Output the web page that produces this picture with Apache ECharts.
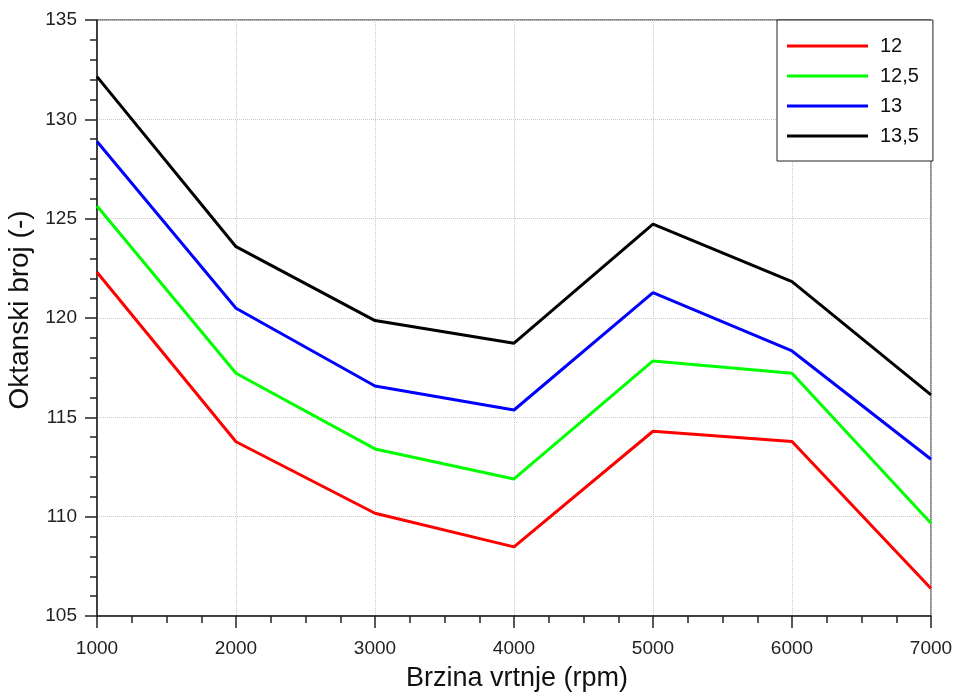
<!DOCTYPE html>
<html>
<head>
<meta charset="utf-8">
<script src="https://cdn.jsdelivr.net/npm/echarts@6/dist/echarts.min.js"></script>
<style>html,body{margin:0;padding:0;background:#fff}#c{width:955px;height:693px}</style>
</head>
<body>
<div id="c"></div>
<script>
const speeds = [1000, 2000, 3000, 4000, 5000, 6000, 7000];
const seriesNames = ['12', '12,5', '13', '13,5'];
const s12  = [122.3, 113.77, 110.17, 108.48, 114.3, 113.78, 106.38];
const s125 = [125.64, 117.22, 113.41, 111.9, 117.84, 117.22, 109.67];
const s13  = [128.88, 120.49, 116.58, 115.37, 121.28, 118.34, 112.89];
const s135 = [132.15, 123.59, 119.87, 118.73, 124.73, 121.83, 116.13];
const colors = ['#ff0000', '#00ff00', '#0000ff', '#000000'];
const allSeries = [s12, s125, s13, s135];

const font = 'Liberation Sans, Arial, sans-serif';
const chart = echarts.init(document.getElementById('c'), null, {renderer: 'canvas'});
chart.setOption({
  animation: false,
  backgroundColor: '#fff',
  grid: {left: 97, right: 24, top: 20, bottom: 77, show: true, borderColor: '#222', borderWidth: 1, outerBoundsMode: 'none', containLabel: false},
  legend: {
    orient: 'vertical', left: 777, top: 20,
    padding: [16, 14, 15, 10],
    borderColor: '#222', borderWidth: 1, backgroundColor: '#fff',
    itemWidth: 81, itemHeight: 3, itemGap: 10, icon: 'rect',
    textStyle: {fontFamily: font, fontSize: 20, lineHeight: 20, color: '#111', padding: [0, 0, 0, 7]},
    data: seriesNames
  },
  xAxis: {
    type: 'value', min: 1000, max: 7000, interval: 1000,
    name: 'Brzina vrtnje (rpm)', nameLocation: 'middle', nameGap: 49,
    nameTextStyle: {fontFamily: font, fontSize: 27, color: '#111', padding: [0, 0, 0, 6]},
    axisLine: {lineStyle: {color: '#222', width: 1.5}},
    axisTick: {length: 12, lineStyle: {color: '#222', width: 1.5}},
    minorTick: {show: true, splitNumber: 4, length: 7, lineStyle: {color: '#222', width: 1.5}},
    axisLabel: {fontFamily: font, fontSize: 19, color: '#222', margin: 23, formatter: v => String(v)},
    splitLine: {show: true, lineStyle: {color: '#c8c8c8', type: 'dotted', width: 1}}
  },
  yAxis: {
    type: 'value', min: 105, max: 135, interval: 5,
    name: 'Oktanski broj (-)', nameLocation: 'middle', nameGap: 58,
    nameTextStyle: {fontFamily: font, fontSize: 28, color: '#111', padding: [0, 0, 0, 16]},
    axisLine: {show: true, lineStyle: {color: '#222', width: 1.5}},
    axisTick: {show: true, length: 12, lineStyle: {color: '#222', width: 1.5}},
    minorTick: {show: true, splitNumber: 5, length: 7, lineStyle: {color: '#222', width: 1.5}},
    axisLabel: {fontFamily: font, fontSize: 19, color: '#222', margin: 20},
    splitLine: {show: true, lineStyle: {color: '#c8c8c8', type: 'dotted', width: 1}}
  },
  series: allSeries.map((vals, i) => ({
    name: seriesNames[i],
    type: 'line',
    symbol: 'none',
    color: colors[i],
    lineStyle: {color: colors[i], width: 3},
    data: speeds.map((x, j) => [x, vals[j]])
  }))
});
</script>
</body>
</html>
